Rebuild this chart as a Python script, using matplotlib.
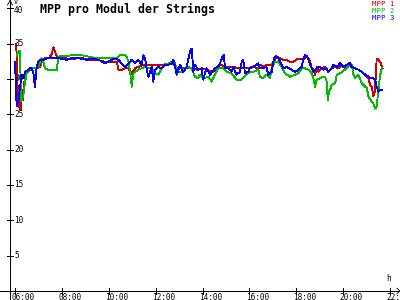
import matplotlib
matplotlib.use("Agg")
import matplotlib.pyplot as plt

title = "MPP pro Modul der Strings"
series_names = ["MPP 1", "MPP 2", "MPP 3"]
series_colors = ["#cc0000", "#00bb00", "#0000ff"]
x_ticks = [6, 8, 10, 12, 14, 16, 18, 20, 22]
x_tick_labels = ["06:00", "08:00", "10:00", "12:00", "14:00", "16:00", "18:00", "20:00", "22:00"]
y_ticks = [5, 10, 15, 20, 25, 30, 35, 40]
y_tick_labels = ["5", "10", "15", "20", "25", "30", "35", "40"]

t1 = [6.04, 6.07, 6.12, 6.18, 6.24, 6.28, 6.33, 6.43, 6.5, 6.64, 6.78, 6.99, 7.07, 7.14, 7.28, 7.42,
      7.56, 7.64, 7.71, 7.78, 7.92, 8.2, 8.49, 8.77, 9.06, 9.34, 9.63, 9.84, 10.12, 10.35, 10.41,
      10.55, 10.69, 10.84, 10.98, 11.12, 11.26, 11.48, 11.69, 11.97, 12.26, 12.54, 12.76, 12.9,
      13.25, 13.54, 13.75, 13.96, 14.17, 14.46, 14.6, 14.74, 15.03, 15.31, 15.53, 15.88, 16.16,
      16.38, 16.45, 16.59, 16.73, 16.95, 17.05, 17.16, 17.3, 17.44, 17.59, 17.73, 17.87, 18.01,
      18.09, 18.31, 18.45, 18.52, 18.59, 18.66, 18.73, 18.8, 18.87, 18.95, 19.09, 19.23, 19.37,
      19.51, 19.66, 19.8, 19.94, 20.08, 20.23, 20.37, 20.51, 20.65, 20.79, 20.94, 21.08, 21.15,
      21.22, 21.29, 21.36, 21.43, 21.5, 21.58, 21.68]
v1 = [35.0, 33.5, 28.0, 26.0, 25.6, 28.5, 27.0, 30.6, 31.0, 31.3, 31.5, 31.6, 31.7, 32.4, 32.9, 32.9,
      33.4, 34.5, 33.8, 33.2, 32.9, 32.9, 32.8, 33.0, 32.8, 32.6, 32.6, 32.4, 32.4, 32.4, 31.3,
      31.3, 31.5, 31.5, 30.7, 31.5, 31.7, 32.0, 32.0, 32.0, 32.0, 32.1, 32.1, 31.5,
      31.5, 31.5, 31.3, 31.5, 31.3, 31.0, 31.7, 32.0, 31.7, 31.7, 31.5, 31.5, 31.7,
      31.5, 32.0, 31.7, 32.0, 32.0, 32.4, 33.2, 32.9, 32.7, 32.7, 32.4, 32.4, 32.7,
      32.9, 32.7, 33.2, 32.9, 32.4, 31.5, 31.3, 30.6, 31.7, 31.0, 31.5, 31.7, 31.0,
      31.5, 31.7, 31.5, 32.0, 31.5, 32.2, 31.5, 31.5, 31.3, 31.0, 30.6, 30.1, 29.1,
      28.9, 27.5, 28.4, 32.9, 32.7, 32.4, 31.5]

t2 = [6.07, 6.14, 6.21, 6.26, 6.36, 6.43, 6.5, 6.57, 6.64, 6.78, 6.99, 7.07, 7.14, 7.21, 7.28, 7.42,
      7.64, 7.78, 7.85, 7.92, 8.2, 8.49, 8.77, 9.06, 9.34, 9.63, 9.84, 10.12, 10.35, 10.48, 10.69,
      10.76, 10.84, 10.91, 10.98, 11.05, 11.12, 11.26, 11.4, 11.55, 11.69, 11.83, 11.97, 12.12,
      12.26, 12.4, 12.54, 12.68, 12.83, 12.9, 13.11, 13.25, 13.4, 13.54, 13.68, 13.82, 13.89,
      14.03, 14.25, 14.39, 14.53, 14.67, 14.89, 15.03, 15.24, 15.45, 15.67, 15.88, 16.02, 16.16,
      16.38, 16.45, 16.59, 16.73, 16.88, 16.95, 17.09, 17.23, 17.37, 17.52, 17.73, 17.94, 18.09,
      18.23, 18.38, 18.52, 18.66, 18.73, 18.8, 18.87, 19.02, 19.16, 19.23, 19.3, 19.34, 19.4,
      19.51, 19.66, 19.73, 19.87, 20.08, 20.23, 20.3, 20.37, 20.44, 20.51, 20.65, 20.79, 20.94,
      21.01, 21.08, 21.22, 21.29, 21.36, 21.43, 21.5, 21.58, 21.65]
v2 = [33.2, 33.9, 33.9, 26.8, 27.7, 29.6, 30.8, 31.0, 31.5, 31.5, 31.7, 32.4, 32.9, 32.4, 31.5, 31.3,
      31.3, 31.3, 32.9, 33.2, 33.2, 33.4, 33.4, 33.2, 33.0, 32.9, 32.9, 32.9, 33.0, 33.4, 33.4,
      33.2, 32.4, 31.0, 28.9, 30.8, 31.0, 31.3, 31.5, 31.7, 31.5, 31.5, 30.8, 30.6,
      31.5, 32.0, 32.2, 32.4, 32.2, 31.0, 31.0, 31.5, 31.7, 31.5, 30.3, 30.1, 30.6,
      30.1, 30.3, 29.6, 30.6, 31.5, 31.5, 31.0, 30.8, 29.9, 29.9, 30.6, 31.0, 31.0,
      31.3, 30.3, 30.1, 30.6, 30.1, 31.5, 32.4, 32.4, 31.7, 30.8, 30.3, 30.6, 30.8,
      31.5, 31.5, 31.3, 30.8, 30.1, 28.9, 29.9, 30.1, 30.3, 30.3, 29.6, 27.0, 28.2,
      29.1, 29.4, 30.6, 30.8, 31.3, 31.7, 32.2, 32.0, 30.6, 30.1, 30.6, 29.4, 28.9,
      28.7, 27.5, 26.8, 26.5, 25.8, 26.1, 28.4, 30.6, 31.5]

t3 = [6.0, 6.07, 6.14, 6.21, 6.28, 6.36, 6.43, 6.57, 6.64, 6.71, 6.78, 6.85, 6.92, 6.99, 7.07, 7.21,
      7.35, 7.49, 7.64, 7.92, 8.2, 8.49, 8.77, 9.06, 9.34, 9.63, 9.84, 10.12, 10.27, 10.41, 10.69,
      10.98, 11.12, 11.26, 11.4, 11.48, 11.55, 11.62, 11.69, 11.83, 11.9, 11.97, 12.12, 12.26,
      12.4, 12.54, 12.68, 12.76, 12.83, 12.9, 13.04, 13.18, 13.32, 13.47, 13.54, 13.61, 13.68,
      13.82, 13.96, 14.03, 14.17, 14.32, 14.53, 14.67, 14.77, 14.86, 14.91, 14.96, 15.1, 15.24,
      15.31, 15.45, 15.6, 15.67, 15.74, 15.81, 15.95, 16.02, 16.16, 16.31, 16.38, 16.45, 16.59,
      16.73, 16.8, 16.95, 17.05, 17.13, 17.23, 17.37, 17.44, 17.59, 17.8, 17.94, 18.09, 18.23,
      18.31, 18.38, 18.45, 18.52, 18.59, 18.73, 18.87, 19.02, 19.16, 19.3, 19.37, 19.51, 19.59,
      19.73, 19.87, 20.01, 20.15, 20.3, 20.37, 20.51, 20.65, 20.79, 20.94, 21.08, 21.15, 21.29,
      21.36, 21.43, 21.5, 21.58, 21.68]
v3 = [32.4, 26.1, 26.8, 28.7, 30.6, 30.1, 31.0, 31.3, 31.5, 31.5, 31.0, 28.9, 31.5, 32.4, 32.7, 32.7,
      32.9, 32.9, 33.0, 32.9, 32.7, 33.0, 32.9, 32.7, 32.9, 32.6, 32.2, 32.7, 32.9, 32.7, 31.7,
      32.7, 32.2, 32.7, 32.0, 33.4, 32.9, 31.3, 30.3, 31.7, 29.6, 31.3, 31.7, 31.5,
      32.0, 32.0, 32.2, 32.7, 31.7, 30.6, 32.0, 31.0, 31.7, 33.9, 34.3, 31.0, 32.0,
      31.3, 31.5, 29.9, 31.5, 30.6, 31.5, 31.7, 32.4, 33.2, 33.4, 31.5, 31.5, 31.0,
      31.7, 30.6, 31.0, 32.4, 32.7, 30.8, 31.0, 31.5, 31.7, 32.0, 32.2, 31.5, 31.5,
      31.7, 30.6, 31.0, 32.9, 33.2, 32.9, 32.0, 31.5, 31.7, 31.3, 31.0, 31.3, 31.7,
      32.9, 33.4, 33.2, 32.7, 32.0, 31.0, 31.5, 31.7, 31.3, 31.5, 31.0, 31.5, 32.0,
      31.7, 32.2, 31.7, 32.0, 32.2, 31.7, 31.5, 31.3, 31.0, 30.6, 30.3, 30.1, 30.1,
      29.9, 28.9, 28.2, 28.4, 28.4]

fig = plt.figure(figsize=(4, 3), dpi=100)
fig.patch.set_facecolor("white")
ax = fig.add_axes([0, 0, 1, 1])
ax.set_xlim(5.36, 22.425)
ax.set_ylim(-1.27, 41.16)
ax.axis("off")

LW = 0.6
x_axis = 5.787
for t, v, c in zip([t1, t2, t3], [v1, v2, v3], series_colors):
    ax.plot(t, v, color=c, lw=LW, antialiased=False, zorder=3)

# axes lines with arrows
ax.plot([x_axis, x_axis], [-1.27, 41.1], color="black", lw=LW, antialiased=False, zorder=4)
ax.plot([5.36, 22.4], [0, 0], color="black", lw=LW, antialiased=False, zorder=4)
ax.plot([x_axis - 2.5 / 23.44, x_axis, x_axis + 2.5 / 23.44], [40.45, 41.1, 40.45],
        color="black", lw=LW, zorder=4)
ax.plot([22.42 - 3 / 23.44, 22.42, 22.42 - 3 / 23.44], [0.4, 0, -0.4],
        color="black", lw=LW, zorder=4)

fs_tick = 5.6
dx = 3 / 23.44
dy = 3 / 7.07
for xt, lab in zip(x_ticks, x_tick_labels):
    ax.plot([xt, xt], [-dy, dy], color="black", lw=LW, antialiased=False, zorder=4)
    ax.text(xt - 3.5 / 23.44, -0.35, lab, ha="left", va="top",
            family="DejaVu Sans Mono", fontsize=fs_tick)
for yt, lab in zip(y_ticks, y_tick_labels):
    ax.plot([x_axis - dx, x_axis + dx], [yt, yt], color="black", lw=LW, antialiased=False, zorder=4)
    ypos = yt - 0.35 if yt == 40 else yt
    ax.text(x_axis + 4 / 23.44, ypos, lab, ha="left", va="center",
            family="DejaVu Sans Mono", fontsize=fs_tick)

ax.text(x_axis + 4 / 23.44, 41.3, "V", ha="left", va="top",
        family="DejaVu Sans Mono", fontsize=4.8)
ax.text(21.83, 1.2, "h", ha="left", va="bottom",
        family="DejaVu Sans Mono", fontsize=fs_tick)

ax.text(7.07, 40.8, title, ha="left", va="top", family="DejaVu Sans Mono",
        fontweight="bold", fontsize=8.4)

for i, (name, c) in enumerate(zip(series_names, series_colors)):
    ax.text(22.17, 40.6 - i * 0.98, name, ha="right", va="center",
            family="DejaVu Sans Mono", fontsize=5.3, color=c)

fig.savefig("out.png", dpi=100)
